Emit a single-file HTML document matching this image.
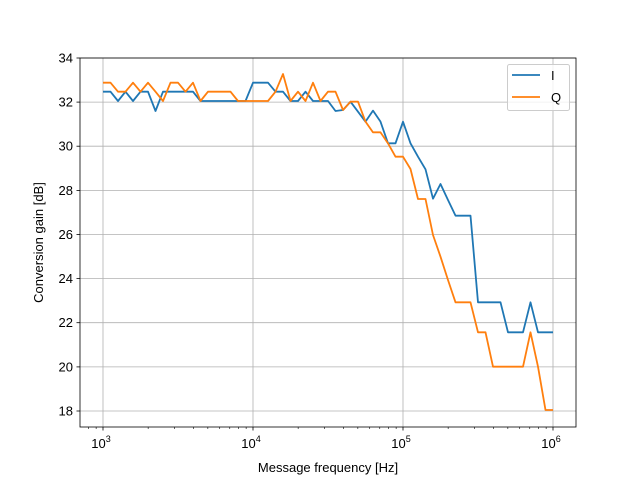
<!DOCTYPE html>
<html><head><meta charset="utf-8"><style>body{margin:0;background:#fff}svg{display:block;font-family:"Liberation Sans","DejaVu Sans",sans-serif}</style></head>
<body>
<svg width="640" height="480" viewBox="0 0 640 480" xmlns="http://www.w3.org/2000/svg">
<rect width="640" height="480" fill="#fff"/>
<g stroke="#b0b0b0" stroke-width="0.8">
<line x1="103" y1="58" x2="103" y2="427"/><line x1="253" y1="58" x2="253" y2="427"/><line x1="403" y1="58" x2="403" y2="427"/><line x1="553" y1="58" x2="553" y2="427"/>
<line x1="80" y1="58" x2="576" y2="58"/><line x1="80" y1="102.1" x2="576" y2="102.1"/><line x1="80" y1="146.2" x2="576" y2="146.2"/><line x1="80" y1="190.4" x2="576" y2="190.4"/><line x1="80" y1="234.5" x2="576" y2="234.5"/><line x1="80" y1="278.6" x2="576" y2="278.6"/><line x1="80" y1="322.7" x2="576" y2="322.7"/><line x1="80" y1="366.9" x2="576" y2="366.9"/><line x1="80" y1="411" x2="576" y2="411"/>
</g>
<polyline id="pI" fill="none" stroke="#1f77b4" stroke-width="1.8" stroke-linejoin="round"/>
<polyline id="pQ" fill="none" stroke="#ff7f0e" stroke-width="1.8" stroke-linejoin="round"/>
<rect x="80" y="58" width="496" height="369" fill="none" stroke="#000" stroke-width="0.8"/>
<g stroke="#000" stroke-width="0.8">
<line x1="103" y1="427" x2="103" y2="430.5"/><line x1="253" y1="427" x2="253" y2="430.5"/><line x1="403" y1="427" x2="403" y2="430.5"/><line x1="553" y1="427" x2="553" y2="430.5"/>
<line x1="80" y1="58" x2="76.5" y2="58"/><line x1="80" y1="102.1" x2="76.5" y2="102.1"/><line x1="80" y1="146.2" x2="76.5" y2="146.2"/><line x1="80" y1="190.4" x2="76.5" y2="190.4"/><line x1="80" y1="234.5" x2="76.5" y2="234.5"/><line x1="80" y1="278.6" x2="76.5" y2="278.6"/><line x1="80" y1="322.7" x2="76.5" y2="322.7"/><line x1="80" y1="366.9" x2="76.5" y2="366.9"/><line x1="80" y1="411" x2="76.5" y2="411"/>
</g>
<g id="minor" stroke="#000" stroke-width="0.6"></g>
<g font-size="13" fill="#000" text-anchor="end">
<text x="73" y="62.5">34</text><text x="73" y="106.6">32</text><text x="73" y="150.7">30</text><text x="73" y="194.9">28</text><text x="73" y="239">26</text><text x="73" y="283.1">24</text><text x="73" y="327.2">22</text><text x="73" y="371.4">20</text><text x="73" y="415.5">18</text>
</g>
<g font-size="13" fill="#000" text-anchor="middle">
<text x="101" y="448">10<tspan font-size="9" dy="-6">3</tspan></text>
<text x="251" y="448">10<tspan font-size="9" dy="-6">4</tspan></text>
<text x="401" y="448">10<tspan font-size="9" dy="-6">5</tspan></text>
<text x="551" y="448">10<tspan font-size="9" dy="-6">6</tspan></text>
<text x="328" y="472">Message frequency [Hz]</text>
<text transform="translate(43,242.5) rotate(-90)">Conversion gain [dB]</text>
</g>
<rect x="507.5" y="64.5" width="62" height="46" rx="2" fill="#fff" fill-opacity="0.8" stroke="#ccc"/>
<line x1="512" y1="75" x2="540" y2="75" stroke="#1f77b4" stroke-width="1.8"/>
<line x1="512" y1="97" x2="540" y2="97" stroke="#ff7f0e" stroke-width="1.8"/>
<text x="551" y="80" font-size="13">I</text>
<text x="551" y="102" font-size="13">Q</text>
</svg>
<script>
var b1=[95,95,123,95,123,95,95,153,95,95,95,95,95,123,123,123,123,123,123,123,68,68,68,95,95,123,123,95,123,123,123,153];
var b2=[60,35,65,95,62,95,160,160,95,160,200,238,326,282,330,377,377,377,637,637,637,637,727,727,727,637,727,727,727];
var o1=[68,68,95,95,68,95,68,95,123,68,68,95,68,123,95,95,95,95,123,123,123,123,123,95,42,123,95,123,68,123,95,95];
var o2=[60,35,35,95,127,127,160,200,200,237,327,327,435,500,570,637,637,637,727,727,830,830,830,830,830,727,830,960,960];
function pts(a1,a2){var p=[];a1.forEach(function(z,i){p.push((103+7.5*i)+','+(60+z/3))});a2.forEach(function(z,j){p.push((103+7.5*(j+32))+','+(90+z/3))});return p.join(' ');}
document.getElementById('pI').setAttribute('points',pts(b1,b2));
document.getElementById('pQ').setAttribute('points',pts(o1,o2));
var g=document.getElementById('minor'),s='';
[-1,0,1,2,3].forEach(function(d){for(var k=2;k<10;k++){var x=103+150*(d+Math.log10(k));if(x>80&&x<576)s+='<line x1="'+x+'" y1="427" x2="'+x+'" y2="429"/>';}});
g.innerHTML=s;
</script>
</body></html>
